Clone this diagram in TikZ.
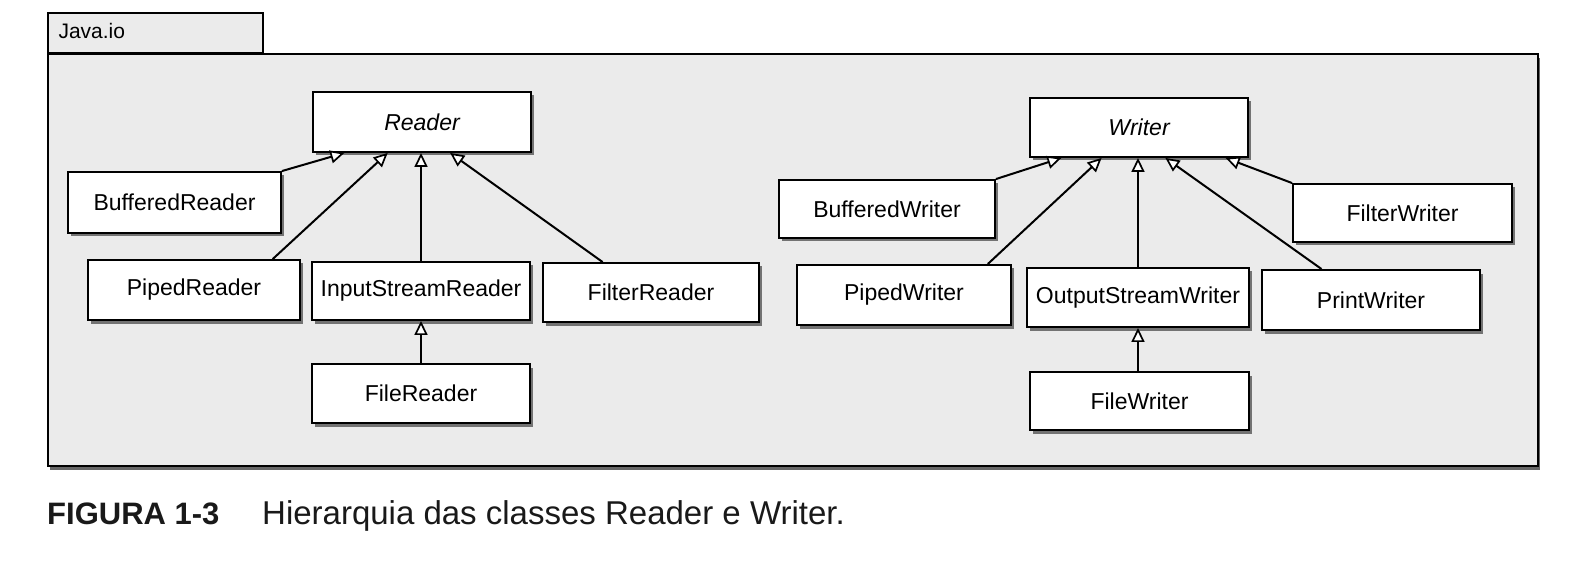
\documentclass[tikz,border=0pt]{standalone}
\usepackage{fontspec}
\setmainfont{Liberation Sans}
\usetikzlibrary{arrows.meta,shadows,calc}
\begin{document}
\begin{tikzpicture}[x=1pt,y=1pt,
  cls/.style={draw=black,line width=1.9pt,fill=white,inner sep=0pt,
    font=\fontsize{23}{25}\selectfont,
    drop shadow={shadow xshift=3pt,shadow yshift=-3.5pt,fill=black!55,opacity=1}},
  inh/.style={line width=2pt,-{Triangle[open,length=14pt,width=13pt,fill=white,line width=1.7pt]}}
]
\useasboundingbox (0,0) rectangle (1580,-572);
\fill[white] (0,0) rectangle (1580,-572);
% package
\node[draw=black,line width=1.9pt,fill=black!8,minimum width=215pt,minimum height=40pt,anchor=north west,inner sep=0pt] (tab) at (47,-12) {};
\node[anchor=west,font=\fontsize{21}{23}\selectfont] (tablbl) at (55,-31) {Java.io};
\node[draw=black,line width=1.9pt,fill=black!8,minimum width=1490pt,minimum height=412pt,anchor=north west,inner sep=0pt,
  drop shadow={shadow xshift=2pt,shadow yshift=-4pt,fill=black!60,opacity=1}] (pkg) at (47,-53) {};
% classes
\node[cls,minimum width=218pt,minimum height=60pt] (reader) at (422,-122) {\itshape Reader};
\node[cls,minimum width=213pt,minimum height=61pt] (buffr) at (174.5,-202.5) {BufferedReader};
\node[cls,minimum width=212pt,minimum height=60pt] (piper) at (194,-290) {PipedReader};
\node[cls,minimum width=218pt,minimum height=58pt] (isr) at (421,-291) {InputStreamReader};
\node[cls,minimum width=216pt,minimum height=59pt] (filtr) at (651,-292.5) {FilterReader};
\node[cls,minimum width=218pt,minimum height=59pt] (filer) at (421,-393.5) {FileReader};
\node[cls,minimum width=218pt,minimum height=59pt] (writer) at (1139,-127.5) {\itshape Writer};
\node[cls,minimum width=216pt,minimum height=58pt] (buffw) at (887,-209) {BufferedWriter};
\node[cls,minimum width=219pt,minimum height=58pt] (filtw) at (1402.5,-213) {FilterWriter};
\node[cls,minimum width=214pt,minimum height=60pt] (pipew) at (904,-295) {PipedWriter};
\node[cls,minimum width=222pt,minimum height=59pt] (osw) at (1138,-297.5) {OutputStreamWriter};
\node[cls,minimum width=218pt,minimum height=60pt] (printw) at (1371,-300) {PrintWriter};
\node[cls,minimum width=219pt,minimum height=58pt] (filew) at (1139.5,-401) {FileWriter};
% inheritance
\draw[inh] (buffr.north east) -- ($(reader.south west)!0.147!(reader.south east)$);
\draw[inh] ($(piper.north west)!0.868!(piper.north east)$) -- ($(reader.south west)!0.344!(reader.south east)$);
\draw[inh] (isr.north) -- (isr.north |- reader.south);
\draw[inh] ($(filtr.north west)!0.278!(filtr.north east)$) -- ($(reader.south west)!0.628!(reader.south east)$);
\draw[inh] (filer.north) -- (filer.north |- isr.south);
\draw[inh] (buffw.north east) -- ($(writer.south west)!0.147!(writer.south east)$);
\draw[inh] ($(pipew.north west)!0.888!(pipew.north east)$) -- ($(writer.south west)!0.33!(writer.south east)$);
\draw[inh] (osw.north) -- (osw.north |- writer.south);
\draw[inh] ($(printw.north west)!0.275!(printw.north east)$) -- ($(writer.south west)!0.62!(writer.south east)$);
\draw[inh] (filtw.north west) -- ($(writer.south west)!0.894!(writer.south east)$);
\draw[inh] (osw.south |- filew.north) -- (osw.south);
% caption
\node[anchor=base west,font=\bfseries\fontsize{31}{34}\selectfont,text=black!90,inner sep=0pt] (fig) at (47,-524) {FIGURA 1-3};
\node[anchor=base west,font=\fontsize{33}{36}\selectfont,text=black!90,inner sep=0pt] (cap) at (262,-524) {Hierarquia das classes Reader e Writer.};
\end{tikzpicture}
\end{document}
